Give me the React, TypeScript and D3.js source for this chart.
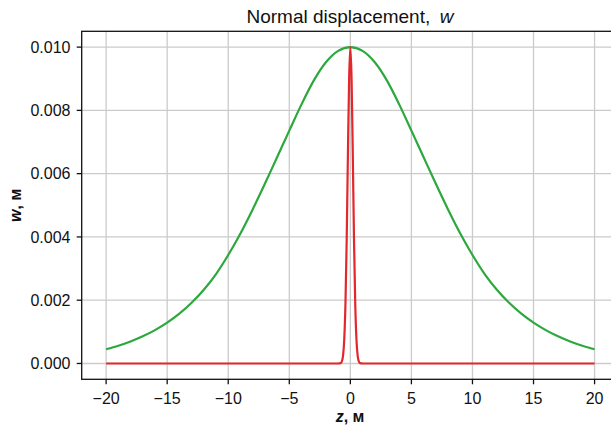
import { useMemo } from 'react'
import * as d3 from 'd3'

const W = 611
const H = 427

// values
const zGreen = [
  -20, -19, -18, -17, -16, -15, -14, -13, -12, -11, -10, -9, -8, -7, -6, -5, -4, -3, -2, -1, 0,
  1, 2, 3, 4, 5, 6, 7, 8, 9, 10, 11, 12, 13, 14, 15, 16, 17, 18, 19, 20,
]
const wGreen = [
  0.00045, 0.000562, 0.000697, 0.000859, 0.001055, 0.00129, 0.001574, 0.001917, 0.00233, 0.002828,
  0.00343, 0.00411, 0.00487, 0.00568, 0.00652, 0.00736, 0.00819, 0.00894, 0.00952, 0.00988,
  0.01,
  0.00988, 0.00952, 0.00894, 0.00819, 0.00736, 0.00652, 0.00568, 0.00487, 0.00411, 0.00343,
  0.002828, 0.00233, 0.001917, 0.001574, 0.00129, 0.001055, 0.000859, 0.000697, 0.000562, 0.00045,
]

const zRed = [-20, -1, -0.8, -0.7, -0.6, -0.5, -0.4, -0.3, -0.2, -0.1, 0, 0.1, 0.2, 0.3, 0.4, 0.5, 0.6, 0.7, 0.8, 1, 20]
const wRed = [
  0, 0, 0.00001, 0.00006, 0.00024, 0.00076, 0.0019, 0.0039, 0.0066, 0.009, 0.01,
  0.009, 0.0066, 0.0039, 0.0019, 0.00076, 0.00024, 0.00006, 0.00001, 0, 0,
]

const xTicks = [-20, -15, -10, -5, 0, 5, 10, 15, 20]
const yTicks = [0, 0.002, 0.004, 0.006, 0.008, 0.01]

const FONT = '"Liberation Sans", Arial, Helvetica, sans-serif'

export default function App() {
  const left = 81.7
  const right = 619
  const top = 31.3
  const bottom = 379.3

  const x = d3.scaleLinear().domain([-22, 22]).range([left, right])
  const y = d3.scaleLinear().domain([-0.0005, 0.0105]).range([bottom, top])

  const line = d3
    .line<[number, number]>()
    .x((d) => x(d[0]))
    .y((d) => y(d[1]))
    .curve(d3.curveMonotoneX)

  const greenPath = useMemo(() => line(zGreen.map((z, i) => [z, wGreen[i]])), [])
  const redPath = useMemo(() => line(zRed.map((z, i) => [z, wRed[i]])), [])

  const fmtX = (v: number) => (v < 0 ? '\u2212' + Math.abs(v) : String(v))

  return (
    <svg
      width={W}
      height={H}
      style={{ position: 'absolute', left: 0, top: 0, display: 'block', background: '#fff' }}
      fontFamily={FONT}
    >
      <rect x={0} y={0} width={W} height={H} fill="#fff" />
      {/* grid */}
      {xTicks.map((t) => (
        <line key={'gx' + t} x1={x(t)} x2={x(t)} y1={top} y2={bottom} stroke="#cbcbcb" strokeWidth={1.3} />
      ))}
      {yTicks.map((t) => (
        <line key={'gy' + t} x1={left} x2={right} y1={y(t)} y2={y(t)} stroke="#cbcbcb" strokeWidth={1.3} />
      ))}

      <path d={greenPath ?? ''} fill="none" stroke="#2ca83e" strokeWidth={2.2} />
      <path d={redPath ?? ''} fill="none" stroke="#e3272d" strokeWidth={2.2} />

      {/* frame */}
      <rect x={left} y={top} width={right - left} height={bottom - top} fill="none" stroke="#111" strokeWidth={1.3} />

      {/* x ticks */}
      {xTicks.map((t) => (
        <g key={'xt' + t}>
          <line x1={x(t)} x2={x(t)} y1={bottom} y2={bottom + 5} stroke="#111" strokeWidth={1.3} />
          <text x={x(t)} y={404} textAnchor="middle" fontSize={16} fill="#111">
            {fmtX(t)}
          </text>
        </g>
      ))}
      {/* y ticks */}
      {yTicks.map((t) => (
        <g key={'yt' + t}>
          <line x1={left - 5} x2={left} y1={y(t)} y2={y(t)} stroke="#111" strokeWidth={1.3} />
          <text x={70.5} y={y(t) + 5.8} textAnchor="end" fontSize={16} fill="#111">
            {t.toFixed(3)}
          </text>
        </g>
      ))}

      {/* title */}
      <text x={350} y={22.5} textAnchor="middle" fontSize={19} fill="#111">
        Normal displacement,{'\u2002'}
        <tspan fontStyle="italic">w</tspan>
      </text>

      {/* axis labels */}
      <text x={350} y={421.5} textAnchor="middle" fontSize={16} fontWeight="bold" fill="#111">
        <tspan fontStyle="italic">z</tspan>, м
      </text>
      <text
        transform={`translate(21, ${(top + bottom) / 2}) rotate(-90)`}
        textAnchor="middle"
        fontSize={16}
        fontWeight="bold"
        fill="#111"
      >
        <tspan fontStyle="italic">w</tspan>, м
      </text>
    </svg>
  )
}
